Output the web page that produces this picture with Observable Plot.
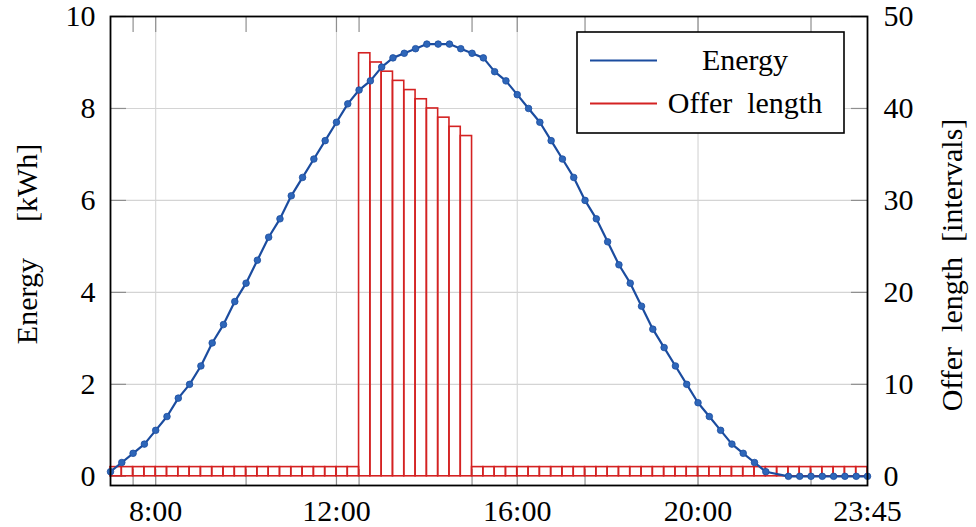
<!DOCTYPE html>
<html>
<head>
<meta charset="utf-8">
<script src="https://cdn.jsdelivr.net/npm/d3@7"></script>
<script src="https://cdn.jsdelivr.net/npm/@observablehq/plot@0.6"></script>
<style>
  html, body { margin: 0; padding: 0; background: white; }
  #chart { position: relative; width: 976px; height: 527px; }
  #chart svg text { font-family: 'Liberation Serif', 'Times New Roman', serif; }
</style>
</head>
<body>
<div id="chart"></div>
<script>
// ---- data ----
const timeLabels = [
  "07:00","07:15","07:30","07:45","08:00","08:15","08:30","08:45",
  "09:00","09:15","09:30","09:45","10:00","10:15","10:30","10:45",
  "11:00","11:15","11:30","11:45","12:00","12:15","12:30","12:45",
  "13:00","13:15","13:30","13:45","14:00","14:15","14:30","14:45",
  "15:00","15:15","15:30","15:45","16:00","16:15","16:30","16:45",
  "17:00","17:15","17:30","17:45","18:00","18:15","18:30","18:45",
  "19:00","19:15","19:30","19:45","20:00","20:15","20:30","20:45",
  "21:00","21:15","21:30","21:45","22:00","22:15","22:30","22:45",
  "23:00","23:15","23:30","23:45"
];
// Energy [kWh] at each time (21:45 has no marker in the original)
const energy = [
  0.1, 0.3, 0.5, 0.7, 1.0, 1.3, 1.7, 2.0,
  2.4, 2.9, 3.3, 3.8, 4.2, 4.7, 5.2, 5.6,
  6.1, 6.5, 6.9, 7.3, 7.7, 8.1, 8.4, 8.6,
  8.9, 9.1, 9.2, 9.3, 9.4, 9.4, 9.4, 9.3,
  9.2, 9.1, 8.8, 8.6, 8.3, 8.0, 7.7, 7.3,
  6.9, 6.5, 6.0, 5.6, 5.1, 4.6, 4.2, 3.7,
  3.2, 2.8, 2.4, 2.0, 1.6, 1.3, 1.0, 0.7,
  0.5, 0.3, 0.1, null, 0, 0, 0, 0,
  0, 0, 0, 0
];
// Offer length [intervals] for each interval starting at timeLabels[i] (ends at timeLabels[i+1])
const offerLength = [
  1, 1, 1, 1, 1, 1, 1, 1,
  1, 1, 1, 1, 1, 1, 1, 1,
  1, 1, 1, 1, 1, 1, 46, 45,
  44, 43, 42, 41, 40, 39, 38, 37,
  1, 1, 1, 1, 1, 1, 1, 1,
  1, 1, 1, 1, 1, 1, 1, 1,
  1, 1, 1, 1, 1, 1, 1, 1,
  1, 1, 1, 1, 1, 1, 1, 1,
  1, 1, 1
];
const xTickLabels = ["8:00", "12:00", "16:00", "20:00", "23:45"];
const xTickMarks = ["7:30", "8:00", "10:00", "12:00", "12:30", "15:00", "16:00", "17:30", "20:00", "22:30"];
const xGrid = ["8:00", "12:00", "16:00", "20:00"];
const yTicksLeft = [0, 2, 4, 6, 8, 10];
const yGrid = [2, 4, 6, 8];
const yTicksRight = [0, 10, 20, 30, 40, 50];
const axisRatio = 5; // 50 intervals on the right axis <-> 10 kWh on the left axis

const seriesNames = ["Energy", "Offer length"];
const yLabelLeft = "Energy\u2003\u2009[kWh]";
const yLabelRight = "Offer\u2002length\u2002[intervals]";

// ---- helpers ----
const toHours = s => { const [h, m] = s.split(":").map(Number); return h + m / 60; };

const energyData = timeLabels
  .map((t, i) => ({ t: toHours(t), e: energy[i] }))
  .filter(d => d.e != null);
const barData = offerLength.map((v, i) => ({
  x1: toHours(timeLabels[i]), x2: toHours(timeLabels[i + 1]), v
}));

const W = 976, H = 527;
const mL = 110, mR = 109, mT = 16, mB = 42;
const plotW = W - mL - mR, plotH = H - mT - mB;
const tickLen = 16;

const blueLine = "#1b4c9f", blueDot = "#2e66b9", red = "#d42222";
const gridColor = "#d4d4d4", tickColor = "#8f8f8f";
const font = "'Liberation Serif', 'Times New Roman', serif";

const chart = Plot.plot({
  width: W, height: H,
  marginLeft: mL, marginRight: mR, marginTop: mT, marginBottom: mB,
  style: { fontFamily: font, fontSize: "30px", background: "white", color: "black" },
  x: { domain: [toHours(timeLabels[0]), toHours(timeLabels[timeLabels.length - 1])] },
  y: { domain: [-0.2, 10] },
  marks: [
    Plot.gridX(xGrid.map(toHours), { stroke: gridColor, strokeOpacity: 1, strokeWidth: 1.1 }),
    Plot.gridY(yGrid, { stroke: gridColor, strokeOpacity: 1, strokeWidth: 1.1 }),
    // inward tick marks
    Plot.ruleX(xTickMarks.map(toHours), { x: d => d, insetTop: plotH - tickLen, stroke: tickColor, strokeWidth: 1.2 }),
    Plot.ruleX(xTickMarks.map(toHours), { x: d => d, insetBottom: plotH - tickLen, stroke: tickColor, strokeWidth: 1.2 }),
    Plot.ruleY(yTicksLeft, { y: d => d, insetRight: plotW - tickLen, stroke: tickColor, strokeWidth: 1.2 }),
    Plot.ruleY(yTicksRight.map(v => v / axisRatio), { y: d => d, insetLeft: plotW - tickLen, stroke: tickColor, strokeWidth: 1.2 }),
    // Offer length bars (ybar interval style)
    Plot.rect(barData, {
      x1: "x1", x2: "x2", y1: 0, y2: d => d.v / axisRatio,
      fill: "none", stroke: red, strokeWidth: 1.6
    }),
    // Energy line + markers
    Plot.line(energyData, { x: "t", y: "e", stroke: blueLine, strokeWidth: 2.2 }),
    Plot.dot(energyData, { x: "t", y: "e", r: 3.3, fill: blueDot, stroke: blueLine, strokeWidth: 0.8 }),
    // axes
    Plot.axisX(xTickLabels.map(toHours), {
      anchor: "bottom", tickSize: 0, tickPadding: 14, fontSize: 30, fontFamily: font,
      tickFormat: d => xTickLabels[xTickLabels.map(toHours).indexOf(d)], label: null
    }),
    Plot.axisY(yTicksLeft, {
      anchor: "left", tickSize: 0, tickPadding: 15, fontSize: 30, fontFamily: font, label: null
    }),
    Plot.axisY(yTicksRight.map(v => v / axisRatio), {
      anchor: "right", tickSize: 0, tickPadding: 16, fontSize: 30, fontFamily: font, label: null,
      tickFormat: d => String(Math.round(d * axisRatio))
    }),
    Plot.text([yLabelLeft], {
      text: d => d, frameAnchor: "left", rotate: -90, dx: -83.5, dy: -7,
      fontSize: 30, fontFamily: font, textAnchor: "middle", lineAnchor: "middle", fill: "black"
    }),
    Plot.text([yLabelRight], {
      text: d => d, frameAnchor: "right", rotate: -90, dx: 84.5, dy: 14,
      fontSize: 30, fontFamily: font, textAnchor: "middle", lineAnchor: "middle", fill: "black"
    }),
    Plot.frame({ stroke: "black", strokeWidth: 1.8 })
  ]
});

// legend inside plot area (top right)
const svg = d3.select(chart);
const lg = svg.append("g").attr("font-family", font).attr("font-size", 30);
lg.append("rect").attr("x", 577).attr("y", 32).attr("width", 267).attr("height", 101)
  .attr("fill", "white").attr("stroke", "black").attr("stroke-width", 1.6);
const legendColors = [blueLine, red];
const legendY = [60.5, 103.5];
seriesNames.forEach((name, i) => {
  lg.append("line").attr("x1", 590).attr("x2", 657).attr("y1", legendY[i]).attr("y2", legendY[i])
    .attr("stroke", legendColors[i]).attr("stroke-width", 1.8);
  lg.append("text").attr("x", 745).attr("y", legendY[i] + 9.5).attr("text-anchor", "middle")
    .attr("fill", "black").text(name.replace(" ", "\u2002"));
});

document.getElementById("chart").appendChild(chart);
</script>
</body>
</html>
